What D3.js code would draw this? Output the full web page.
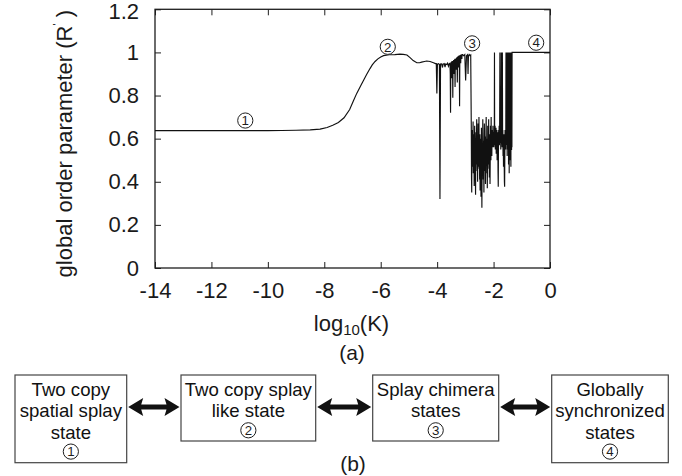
<!DOCTYPE html>
<html>
<head>
<meta charset="utf-8">
<script src="https://cdn.jsdelivr.net/npm/d3@7"></script>
<style>
  body { margin: 0; background: #fff; }
  svg { display: block; font-family: "Liberation Sans", Arial, Helvetica, sans-serif; }
</style>
</head>
<body>
<svg id="fig" width="682" height="476"></svg>
<script>
// ---- data -------------------------------------------------------------
// global order parameter R' against log10(K)
const samples = [
  // smooth rise from the two-copy splay plateau
  [-14,0.637],[-13,0.637],[-12,0.637],[-11,0.637],[-10,0.637],[-9.5,0.638],[-9,0.639],
  [-8.5,0.641],[-8.15,0.644],[-7.9,0.652],[-7.7,0.662],[-7.5,0.675],[-7.3,0.697],[-7.1,0.735],
  [-6.97,0.775],[-6.85,0.81],[-6.7,0.848],[-6.5,0.898],[-6.38,0.925],[-6.3,0.942],[-6.2,0.958],
  [-6.1,0.97],[-6.0,0.979],[-5.9,0.985],[-5.7,0.989],[-5.5,0.99],[-5.32,0.992],[-5.2,0.991],
  [-5.07,0.988],[-4.95,0.975],[-4.85,0.962],[-4.72,0.952],[-4.62,0.952],[-4.55,0.955],
  [-4.45,0.958],[-4.37,0.96],[-4.25,0.958],[-4.13,0.952],[-4.06,0.948],
  // first isolated drops
  [-4.03,0.948],[-4.01,0.81],[-3.99,0.946],[-3.95,0.948],[-3.92,0.944],[-3.90,0.32],[-3.88,0.946],
  [-3.84,0.947],[-3.81,0.93],[-3.79,0.946],[-3.75,0.948],[-3.72,0.932],[-3.70,0.946],[-3.66,0.944],
  [-3.63,0.95],[-3.60,0.936],[-3.57,0.948],
  // fluctuations just below one
  [-3.545,0.95],[-3.535,0.90],[-3.525,0.72],[-3.515,0.95],[-3.505,0.93],[-3.495,0.955],[-3.485,0.88],
  [-3.475,0.96],[-3.465,0.91],[-3.455,0.96],[-3.445,0.79],[-3.435,0.96],[-3.425,0.94],[-3.415,0.965],
  [-3.405,0.90],[-3.395,0.965],[-3.385,0.93],[-3.375,0.97],[-3.365,0.84],[-3.355,0.97],[-3.345,0.95],
  [-3.335,0.972],[-3.325,0.92],[-3.315,0.975],[-3.305,0.94],[-3.295,0.978],[-3.285,0.86],[-3.275,0.98],
  [-3.265,0.95],[-3.255,0.982],[-3.245,0.93],[-3.235,0.985],[-3.225,0.96],[-3.215,0.986],[-3.205,0.75],
  [-3.195,0.987],[-3.185,0.97],[-3.175,0.988],[-3.165,0.95],[-3.155,0.99],[-3.145,0.975],[-3.135,0.99],
  [-3.125,0.97],[-3.115,0.99],
  [-3.10,0.99],[-3.06,0.985],[-3.02,0.99],[-2.99,0.87],[-2.96,0.985],[-2.92,0.99],[-2.905,0.90],
  [-2.89,0.985],[-2.86,0.99],[-2.84,0.985],[-2.81,0.988],
  // splay chimera band
  [-2.79,0.66],[-2.782,0.42],[-2.774,0.35],[-2.766,0.61],[-2.758,0.52],[-2.75,0.64],[-2.742,0.47],
  [-2.734,0.58],[-2.726,0.68],[-2.718,0.44],[-2.71,0.55],[-2.702,0.62],[-2.694,0.49],[-2.686,0.38],
  [-2.678,0.57],[-2.67,0.66],[-2.662,0.50],[-2.654,0.60],[-2.646,0.43],[-2.638,0.34],[-2.63,0.56],
  [-2.622,0.63],[-2.614,0.48],[-2.606,0.59],[-2.598,0.69],[-2.59,0.51],[-2.582,0.45],[-2.574,0.61],
  [-2.566,0.40],[-2.558,0.55],[-2.55,0.67],[-2.542,0.47],[-2.534,0.58],[-2.526,0.52],[-2.518,0.70],
  [-2.51,0.46],[-2.502,0.57],[-2.494,0.41],[-2.486,0.62],[-2.478,0.36],[-2.47,0.54],[-2.462,0.48],
  [-2.454,0.60],[-2.446,0.33],[-2.438,0.52],[-2.43,0.65],[-2.422,0.44],[-2.414,0.28],[-2.406,0.50],
  [-2.398,0.58],[-2.39,0.46],[-2.382,0.69],[-2.374,0.53],[-2.366,0.41],[-2.358,0.59],[-2.35,0.48],
  [-2.342,0.35],[-2.334,0.56],[-2.326,0.67],[-2.318,0.50],[-2.31,0.61],[-2.302,0.45],[-2.294,0.57],
  [-2.286,0.39],[-2.278,0.54],[-2.27,0.63],[-2.262,0.70],[-2.254,0.49],[-2.246,0.58],[-2.238,0.44],
  [-2.23,0.60],[-2.222,0.37],[-2.214,0.53],[-2.206,0.66],[-2.198,0.48],[-2.19,0.57],[-2.182,0.51],
  [-2.174,0.69],[-2.166,0.46],[-2.158,0.59],[-2.15,0.42],[-2.142,0.55],[-2.134,0.62],[-2.126,0.39],
  [-2.118,0.52],[-2.11,0.66],[-2.102,0.57],[-2.094,0.50],[-2.086,0.70],[-2.078,0.55],[-2.07,0.61],
  [-2.062,0.52],[-2.054,0.64],[-2.046,0.58],[-2.038,0.62],[-2.03,0.56],[-2.022,0.66],[-2.014,0.60],
  [-2.006,0.63],
  // intermittent synchronisation bursts
  [-1.998,0.60],[-1.99,0.56],[-1.982,0.63],[-1.974,0.58],[-1.968,1.0],[-1.962,0.61],[-1.954,0.57],
  [-1.946,0.66],[-1.938,0.55],[-1.93,0.62],[-1.922,0.58],[-1.914,0.65],[-1.906,0.53],[-1.898,0.60],
  [-1.89,0.57],[-1.882,0.64],[-1.874,0.50],[-1.866,0.61],[-1.858,0.56],[-1.85,0.63],[-1.842,0.45],
  [-1.834,0.377],[-1.826,0.58],[-1.818,0.64],[-1.81,0.60],[-1.802,0.66],[-1.794,0.57],[-1.786,0.62],
  [-1.776,1.0],[-1.768,0.62],[-1.76,0.58],[-1.752,0.65],[-1.744,0.55],[-1.736,0.60],[-1.728,1.0],
  [-1.72,0.58],[-1.712,1.0],[-1.704,0.62],[-1.696,0.56],[-1.688,1.0],[-1.68,0.60],[-1.672,0.64],
  [-1.664,0.52],[-1.656,0.60],[-1.648,0.47],[-1.64,0.58],[-1.632,0.62],[-1.624,0.50],[-1.616,0.40],
  [-1.608,0.377],[-1.6,0.56],[-1.592,0.64],[-1.584,0.58],[-1.576,0.62],[-1.568,0.55],[-1.56,1.0],
  [-1.554,0.62],[-1.548,1.0],[-1.542,0.57],[-1.536,1.0],[-1.53,0.66],[-1.524,1.0],[-1.518,0.52],
  [-1.512,1.0],[-1.506,0.60],[-1.5,1.0],[-1.494,0.55],[-1.488,1.0],[-1.482,0.63],[-1.476,1.0],
  [-1.47,0.48],[-1.464,1.0],[-1.458,0.60],[-1.452,1.0],[-1.446,0.44],[-1.44,1.0],[-1.434,0.58],
  [-1.428,1.0],[-1.422,0.50],[-1.416,1.0],[-1.41,0.62],[-1.404,1.0],[-1.398,0.53],[-1.392,1.0],
  [-1.386,0.47],[-1.38,1.0],[-1.374,0.60],[-1.368,1.0],[-1.362,0.547],[-1.356,1.0],[-1.35,0.56],
  [-1.344,1.0],
  // globally synchronised
  [0,1.0]
];

const xTicks = [-14, -12, -10, -8, -6, -4, -2, 0];
const yTicks = [0, 0.2, 0.4, 0.6, 0.8, 1, 1.2];

// circled state numbers placed on the curve panel
const stateMarks = [
  { k: -10.8, r: 0.684, n: "1" },
  { k: -5.75, r: 1.026, n: "2" },
  { k: -2.76, r: 1.042, n: "3" },
  { k: -0.49, r: 1.045, n: "4" }
];

// flow diagram of the four states
const stateBoxes = [
  { lines: ["Two copy", "spatial splay", "state"], n: "1" },
  { lines: ["Two copy splay", "like state"],       n: "2" },
  { lines: ["Splay chimera", "states"],            n: "3" },
  { lines: ["Globally", "synchronized", "states"], n: "4" }
];

// ---- layout -----------------------------------------------------------
const svg = d3.select("#fig");
const ink = "#1e1e1e";

const x = d3.scaleLinear().domain([-14, 0]).range([155, 550]);
const y = d3.scaleLinear().domain([0, 1.2]).range([268, 9.3]);

const plot = svg.append("g");

// frame with inward ticks on all four sides
const fmt = d => String(d);
const tick = 6;
plot.append("g").attr("transform", `translate(0,${y(0)})`)
  .call(d3.axisBottom(x).tickValues(xTicks).tickSizeInner(-tick).tickSizeOuter(0).tickPadding(14).tickFormat(fmt));
plot.append("g").attr("transform", `translate(0,${y(1.2)})`)
  .call(d3.axisTop(x).tickValues(xTicks).tickSizeInner(-tick).tickSizeOuter(0).tickFormat(""));
const yAxisG = plot.append("g").attr("transform", `translate(${x(-14)},0)`)
  .call(d3.axisLeft(y).tickValues(yTicks).tickSizeInner(-tick).tickSizeOuter(0).tickPadding(16).tickFormat(fmt));
plot.append("g").attr("transform", `translate(${x(0)},0)`)
  .call(d3.axisRight(y).tickValues(yTicks).tickSizeInner(-tick).tickSizeOuter(0).tickFormat(""));

plot.selectAll(".domain").remove();
plot.selectAll(".tick line").attr("stroke", ink).attr("stroke-width", 1);
plot.selectAll(".tick text").attr("fill", "#1a1a1a").style("font-size", "22px");
// keep the topmost label inside the page
yAxisG.selectAll(".tick text").filter(d => d === 1.2).attr("dy", "0.42em");

plot.append("rect")
  .attr("x", x(-14)).attr("y", y(1.2))
  .attr("width", x(0) - x(-14)).attr("height", y(0) - y(1.2))
  .attr("fill", "none").attr("stroke", ink).attr("stroke-width", 1.3);

// the curve
const line = d3.line().x(d => x(d[0])).y(d => y(d[1]));
plot.append("path")
  .datum(samples)
  .attr("d", line)
  .attr("fill", "none")
  .attr("stroke", "#111")
  .attr("stroke-width", 1.15)
  .attr("stroke-linejoin", "miter");

// circled numbers
function circled(g, cx, cy, n, r) {
  g.append("circle").attr("cx", cx).attr("cy", cy).attr("r", r)
    .attr("fill", "#fff").attr("stroke", ink).attr("stroke-width", 1);
  g.append("text").attr("x", cx).attr("y", cy + r * 0.62)
    .attr("text-anchor", "middle").attr("fill", ink)
    .style("font-size", (r * 1.75) + "px").text(n);
}
stateMarks.forEach(m => circled(plot, x(m.k), y(m.r), m.n, 7.6));

// axis titles
const yl = plot.append("text")
  .attr("transform", `translate(72,${(y(0) + y(1.2)) / 2 + 5}) rotate(-90)`)
  .attr("text-anchor", "middle").attr("fill", "#1a1a1a")
  .style("font-size", "22px");
yl.append("tspan").text("global order parameter (R");
yl.append("tspan").attr("dy", -11).style("font-size", "11px").text("'");
yl.append("tspan").attr("dy", 11).text(" )");

const xl = plot.append("text")
  .attr("x", (x(-14) + x(0)) / 2 - 1).attr("y", 331)
  .attr("text-anchor", "middle").attr("fill", "#1a1a1a")
  .style("font-size", "22px");
xl.append("tspan").text("log");
xl.append("tspan").attr("dy", 4).style("font-size", "15px").text("10");
xl.append("tspan").attr("dy", -4).text("(K)");

svg.append("text").attr("x", 352).attr("y", 360).attr("text-anchor", "middle")
  .attr("fill", "#1a1a1a").style("font-size", "21px").text("(a)");
svg.append("text").attr("x", 353).attr("y", 471).attr("text-anchor", "middle")
  .attr("fill", "#1a1a1a").style("font-size", "21px").text("(b)");

// ---- state diagram ----------------------------------------------------
const boxX = d3.scaleOrdinal().domain(d3.range(4)).range([15, 181, 372.7, 551.7]);
const boxW = [111.7, 134.7, 126, 116.6];
const boxTop = 375;
const lineGap = 21.3;
const diag = svg.append("g");

stateBoxes.forEach((b, i) => {
  const x0 = boxX(i), w = boxW[i];
  const h = b.lines.length === 3 ? 87.7 : 66;
  diag.append("rect").attr("x", x0).attr("y", boxTop).attr("width", w).attr("height", h)
    .attr("fill", "#fff").attr("stroke", "#444").attr("stroke-width", 1.2);
  const cx = x0 + w / 2;
  b.lines.forEach((t, j) => {
    diag.append("text").attr("x", cx).attr("y", boxTop + 21 + j * lineGap)
      .attr("text-anchor", "middle").attr("fill", "#111")
      .style("font-size", "18.6px").text(t);
  });
  circled(diag, cx, boxTop + 21 + (b.lines.length - 1) * lineGap + 13, b.n, 7.6);
});

// double-headed arrows between neighbouring boxes
function doubleArrow(x1, x2, yc) {
  const hl = 15, hh = 9, sh = 2.5;
  const pts = [
    [x1, yc], [x1 + hl, yc - hh], [x1 + hl - 2, yc - sh], [x2 - hl + 2, yc - sh], [x2 - hl, yc - hh],
    [x2, yc], [x2 - hl, yc + hh], [x2 - hl + 2, yc + sh], [x1 + hl - 2, yc + sh], [x1 + hl, yc + hh]
  ];
  diag.append("path").attr("d", d3.line()(pts) + "Z").attr("fill", "#111");
}
for (let i = 0; i < 3; i++) {
  doubleArrow(boxX(i) + boxW[i] + 1.5, boxX(i + 1) - 1.5, 407);
}
</script>
</body>
</html>
